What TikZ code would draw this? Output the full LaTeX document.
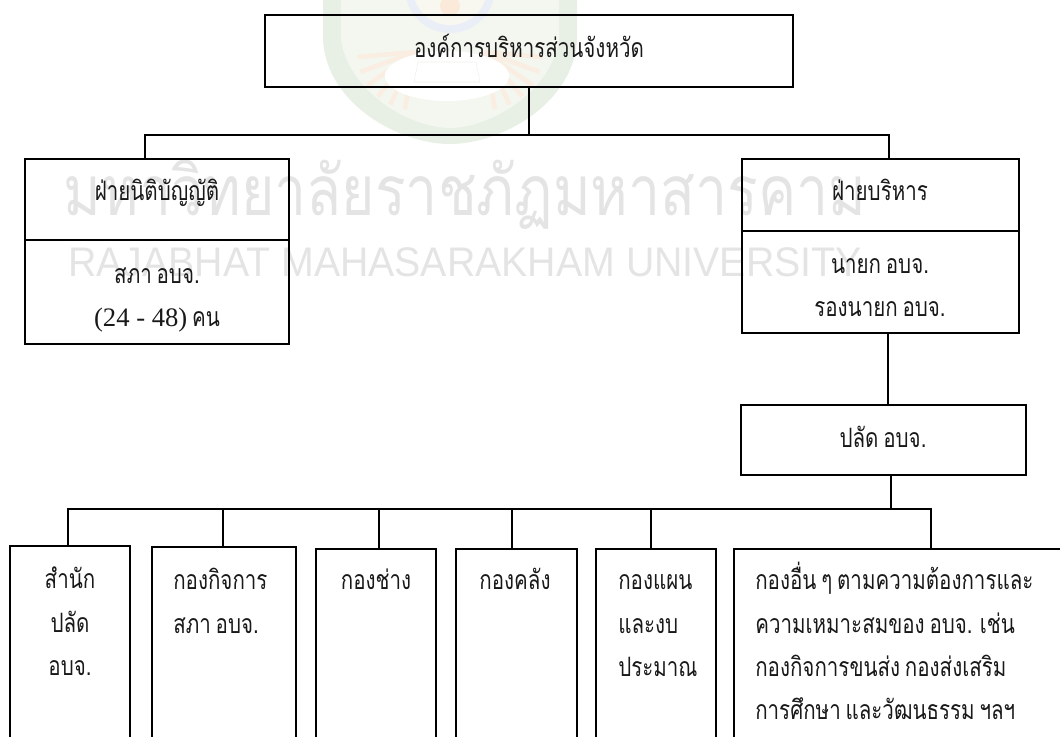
\documentclass[tikz,border=0pt]{standalone}
\usepackage{fontspec}
\setmainfont{Liberation Serif}
\newfontfamily\thaifont[Script=Thai,FakeStretch=0.77,WordSpace=0.7]{Loma}
\newfontfamily\markthai[Script=Thai,FakeStretch=0.825]{Loma}
\newfontfamily\marklatin[FakeStretch=0.95]{Liberation Sans}
\definecolor{markgray}{RGB}{228,228,228}
\lineskiplimit=-20pt
\newcommand{\linetop}{\rule{0pt}{26pt}}
\tikzset{
  orgbox/.style={draw=black,line width=1.2pt,inner sep=0pt},
  orglabel/.style={inner sep=0.75pt,anchor=north,font=\thaifont\fontsize{20}{32.5}\selectfont,text=black!90},
  orgline/.style={draw=black,line width=1.2pt},
  marktext/.style={inner sep=0pt,text=markgray},
}
\begin{document}
\begin{tikzpicture}[x=0.75pt,y=0.75pt,yscale=-1,xscale=1]
\useasboundingbox (0,0) rectangle (1060,736);
\clip (0,0) rectangle (1060,736);

% Watermark
\fill[fill={rgb, 255:red, 232; green, 239; blue, 229 }] (323,-5) -- (323,40) .. controls (327,105) and (400,144) .. (450,144) .. controls (500,144) and (573,105) .. (577,40) -- (577,-5) -- cycle ;
\fill[fill={rgb, 255:red, 244; green, 247; blue, 240 }] (341,-5) -- (341,40) .. controls (349,92) and (410,128) .. (450,128) .. controls (490,128) and (551,92) .. (559,40) -- (559,-5) -- cycle ;
\foreach \ang in {100,115,...,175} {
  \draw[line width=3.5pt,color={rgb, 255:red, 250; green, 238; blue, 226 }] (415,52) -- ++(\ang:58) ;
  \draw[line width=3.5pt,color={rgb, 255:red, 250; green, 238; blue, 226 }] (485,52) -- ++(180-\ang:58) ;
}
\fill[fill={rgb, 255:red, 234; green, 238; blue, 247 }] (450,-12) circle [radius=45] ;
\fill[fill={rgb, 255:red, 248; green, 248; blue, 240 }] (450,-12) circle [radius=37] ;
\fill[fill={rgb, 255:red, 251; green, 234; blue, 218 }] (450,6) circle [radius=10] ;
\fill[white] (447,76) ellipse [x radius=62,y radius=25] ;
\draw[color={rgb, 255:red, 240; green, 240; blue, 236 }] (418,62) -- (476,62) -- (480,82) -- (414,82) -- cycle ;
\node[marktext,font=\markthai\fontsize{52}{60}\selectfont] (markth) at (465,195) {มหาวิทยาลัยราชภัฏมหาสารคาม};
\node[marktext,font=\marklatin\fontsize{31}{36}\selectfont] (markla) at (465,262) {RAJABHAT MAHASARAKHAM UNIVERSITY};

% Boxes
\node[orgbox,minimum width=528*0.75pt,minimum height=72*0.75pt] (top) at (529,51) {};
\node[orgbox,minimum width=264*0.75pt,minimum height=81*0.75pt] (lefthead) at (157,199.5) {};
\node[orgbox,minimum width=264*0.75pt,minimum height=104*0.75pt] (leftbody) at (157,292) {};
\node[orgbox,minimum width=277*0.75pt,minimum height=72*0.75pt] (righthead) at (880.5,195) {};
\node[orgbox,minimum width=277*0.75pt,minimum height=102*0.75pt] (rightbody) at (880.5,282) {};
\node[orgbox,minimum width=285*0.75pt,minimum height=70*0.75pt] (deputy) at (883.5,440) {};
\node[orgbox,minimum width=120*0.75pt,minimum height=230*0.75pt] (office) at (70,661) {};
\node[orgbox,minimum width=144*0.75pt,minimum height=230*0.75pt] (council) at (224,662) {};
\node[orgbox,minimum width=120*0.75pt,minimum height=230*0.75pt] (works) at (376,664) {};
\node[orgbox,minimum width=121*0.75pt,minimum height=230*0.75pt] (finance) at (516.5,664) {};
\node[orgbox,minimum width=120*0.75pt,minimum height=230*0.75pt] (plan) at (656,664) {};
\node[orgbox,minimum width=360*0.75pt,minimum height=230*0.75pt] (other) at (914,664) {};

% Labels
\node[orglabel] (toplabel) at (529,21.6) {\linetop องค์การบริหารส่วนจังหวัด};
\node[orglabel] (leftheadlabel) at (157,164.6) {\linetop ฝ่ายนิติบัญญัติ};
\node[orglabel,align=center] (leftbodylabel) at (157,247.6) {\linetop สภา อบจ.\\{\rmfamily (24 - 48)} คน};
\node[orglabel] (rightheadlabel) at (880,164.6) {\linetop ฝ่ายบริหาร};
\node[orglabel,align=center] (rightbodylabel) at (880,237.6) {\linetop นายก อบจ.\\รองนายก อบจ.};
\node[orglabel] (deputylabel) at (883,411.6) {\linetop ปลัด อบจ.};
\node[orglabel,align=center] (officelabel) at (70,553) {\linetop สำนัก\\ปลัด\\อบจ.};
\node[orglabel,align=left,anchor=north west] (councillabel) at (172,554) {\linetop กองกิจการ\\สภา อบจ.};
\node[orglabel] (workslabel) at (376,554) {\linetop กองช่าง};
\node[orglabel] (financelabel) at (515,554) {\linetop กองคลัง};
\node[orglabel,align=left,anchor=north west] (planlabel) at (617,554) {\linetop กองแผน\\และงบ\\ประมาณ};
\node[orglabel,align=left,anchor=north west] (otherlabel) at (754,554) {\linetop กองอื่น ๆ ตามความต้องการและ\\ความเหมาะสมของ อบจ. เช่น\\กองกิจการขนส่ง กองส่งเสริม\\การศึกษา และวัฒนธรรม ฯลฯ};

% Connectors
\coordinate (topbus) at (529,135);
\coordinate (rowbus) at (891,509);
\draw[orgline] (top.south) -- (topbus);
\draw[orgline] (lefthead.north -| 145,0) |- (topbus);
\draw[orgline] (righthead.north -| 889,0) |- (topbus);
\draw[orgline] (rightbody.south -| 888,0) -- (deputy.north -| 888,0);
\draw[orgline] (deputy.south -| rowbus) -- (rowbus);
\draw[orgline] (office.north -| 68,0) |- (rowbus);
\draw[orgline] (council.north -| 223,0) -- (223,509);
\draw[orgline] (works.north -| 379,0) -- (379,509);
\draw[orgline] (finance.north -| 512,0) -- (512,509);
\draw[orgline] (plan.north -| 651,0) -- (651,509);
\draw[orgline] (other.north -| 931,0) |- (rowbus);

\end{tikzpicture}
\end{document}
